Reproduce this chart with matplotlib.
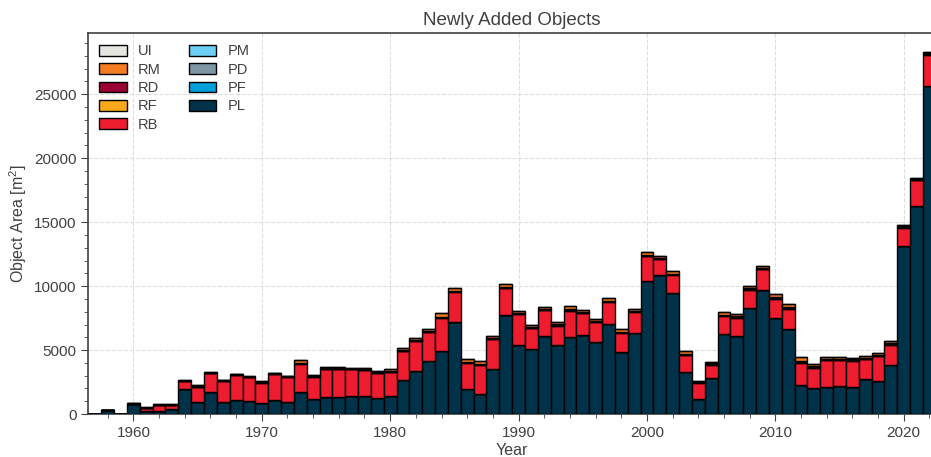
import numpy as np
import matplotlib.pyplot as plt
from matplotlib.ticker import MultipleLocator

plt.rcParams['font.family'] = ['Liberation Sans', 'DejaVu Sans']
plt.rcParams['mathtext.fontset'] = 'custom'
plt.rcParams['mathtext.rm'] = 'Liberation Sans'

years = list(range(1957, 2023))

# area per object class and year [m^2]
PL = [0, 300, 40, 780, 210, 260, 360, 1930, 940, 1740,
      940, 1090, 1040, 860, 1090, 960, 1700, 1170, 1300, 1350,
      1400, 1420, 1250, 1400, 2660, 3390, 4170, 4950, 7210, 1980,
      1560, 3540, 7730, 5390, 5050, 6090, 5360, 6020, 6200, 5650,
      7030, 4840, 6350, 10410, 10860, 9480, 3280, 1150, 2810, 6280,
      6090, 8310, 9690, 7470, 6640, 2290, 2010, 2110, 2190, 2140,
      2760, 2580, 3860, 13130, 16300, 25680]
PF = [0, 0, 0, 0, 0, 0, 0, 0, 0, 0,
      0, 0, 0, 0, 0, 0, 0, 0, 0, 0,
      0, 0, 0, 0, 0, 0, 0, 0, 0, 0,
      0, 0, 0, 0, 0, 0, 0, 0, 0, 0,
      0, 0, 0, 0, 0, 0, 0, 0, 0, 0,
      0, 0, 0, 0, 0, 0, 0, 0, 0, 0,
      0, 0, 0, 0, 0, 0]
PD = [0, 0, 0, 0, 0, 0, 0, 0, 0, 0,
      0, 0, 0, 0, 0, 0, 0, 0, 0, 0,
      0, 0, 0, 0, 0, 0, 0, 0, 0, 0,
      0, 0, 0, 0, 0, 0, 0, 0, 0, 0,
      0, 0, 0, 0, 0, 0, 0, 0, 0, 0,
      0, 0, 0, 0, 0, 0, 0, 0, 0, 0,
      0, 0, 0, 0, 0, 0]
PM = [0, 0, 0, 0, 0, 0, 0, 0, 0, 0,
      0, 0, 0, 0, 0, 0, 0, 0, 0, 0,
      0, 0, 0, 0, 0, 0, 0, 0, 0, 0,
      0, 0, 0, 0, 0, 0, 0, 0, 0, 0,
      0, 0, 0, 0, 0, 0, 0, 0, 0, 0,
      0, 0, 0, 0, 0, 0, 0, 0, 0, 0,
      0, 0, 0, 0, 0, 0]
RB = [0, 0, 0, 0, 250, 440, 330, 620, 1180, 1430,
      1640, 1950, 1830, 1600, 2020, 1920, 2230, 1750, 2230, 2170,
      2100, 2030, 1960, 1880, 2260, 2310, 2230, 2550, 2320, 2030,
      2270, 2290, 2110, 2400, 1640, 2010, 1540, 2050, 1660, 1510,
      1720, 1510, 1620, 1910, 1230, 1410, 1300, 1300, 1040, 1380,
      1440, 1400, 1610, 1510, 1590, 1720, 1610, 2110, 2030, 2030,
      1510, 1920, 1560, 1450, 1980, 2390]
RF = [0, 0, 0, 10, 10, 10, 10, 20, 20, 20,
      20, 20, 20, 10, 20, 20, 40, 20, 30, 20,
      20, 20, 20, 30, 40, 40, 40, 60, 50, 40,
      50, 50, 50, 50, 50, 40, 50, 60, 40, 50,
      50, 40, 50, 60, 50, 40, 50, 20, 30, 50,
      50, 50, 50, 70, 60, 80, 40, 40, 40, 40,
      40, 40, 30, 30, 30, 40]
RD = [0, 20, 0, 40, 20, 20, 20, 30, 30, 30,
      30, 40, 30, 50, 50, 50, 40, 40, 30, 40,
      40, 40, 50, 80, 40, 50, 50, 60, 50, 50,
      50, 60, 50, 50, 50, 50, 60, 60, 50, 60,
      60, 50, 50, 60, 60, 50, 60, 60, 90, 50,
      60, 60, 60, 70, 60, 60, 60, 60, 60, 60,
      80, 70, 110, 80, 80, 80]
RM = [0, 10, 0, 30, 30, 50, 40, 50, 70, 60,
      50, 50, 50, 30, 50, 40, 180, 40, 110, 70,
      60, 60, 50, 100, 130, 150, 150, 240, 210, 170,
      180, 200, 190, 180, 190, 170, 180, 220, 170, 180,
      200, 170, 180, 250, 170, 170, 210, 70, 120, 180,
      200, 210, 200, 260, 220, 280, 160, 160, 160, 130,
      140, 130, 120, 100, 100, 150]
UI = [0, 0, 0, 0, 0, 0, 0, 0, 0, 0,
      0, 0, 0, 0, 0, 0, 0, 0, 0, 0,
      0, 0, 0, 0, 0, 0, 0, 0, 0, 0,
      0, 0, 0, 0, 0, 0, 0, 0, 0, 0,
      0, 0, 0, 0, 0, 0, 0, 0, 0, 0,
      0, 0, 0, 0, 0, 0, 0, 0, 0, 0,
      0, 0, 0, 0, 0, 0]

# stacked from the bottom up
layers = [
    ('PL', PL, '#00324a'),
    ('PF', PF, '#00a0db'),
    ('PD', PD, '#7d97a5'),
    ('PM', PM, '#6dcff6'),
    ('RB', RB, '#ed1c2e'),
    ('RF', RF, '#fba91a'),
    ('RD', RD, '#9a0036'),
    ('RM', RM, '#f57c20'),
    ('UI', UI, '#e6e6e1'),
]

text_color = '#404040'

fig = plt.figure(figsize=(9.31, 4.57), dpi=100)
ax = fig.add_axes([0.095, 0.094, 0.9102, 0.833])

bottom = np.zeros(len(years))
handles = {}
for name, vals, color in layers:
    vals = np.array(vals, dtype=float)
    bars = ax.bar(years, vals, width=1.0, bottom=bottom, color=color,
                  edgecolor='black', linewidth=1.0, label=name, zorder=3)
    handles[name] = bars
    bottom += vals

order = ['UI', 'RM', 'RD', 'RF', 'RB', 'PM', 'PD', 'PF', 'PL']
ax.legend([handles[n] for n in order], order, loc='upper left', ncol=2,
          frameon=False, fontsize=10.5, labelcolor=text_color,
          handlelength=1.9, handleheight=0.75, handletextpad=0.75,
          columnspacing=1.9, borderaxespad=0.35, labelspacing=0.3)

ax.set_xlim(1956.5, 2022.5)
ax.set_ylim(0, 29760)
ax.xaxis.set_major_locator(MultipleLocator(10))
ax.xaxis.set_minor_locator(MultipleLocator(2))
ax.yaxis.set_major_locator(MultipleLocator(5000))
ax.yaxis.set_minor_locator(MultipleLocator(1000))

ax.grid(True, which='major', linestyle='--', color='#dddddd', linewidth=0.8, zorder=0)
ax.tick_params(which='both', direction='out', colors=text_color, labelsize=11)
ax.tick_params(which='major', length=5)
ax.tick_params(which='minor', length=3)
for side in ['top', 'left', 'bottom', 'right']:
    ax.spines[side].set_color('#404040')
    ax.spines[side].set_linewidth(1.2)

ax.set_xlabel('Year', fontsize=11.5, color=text_color, labelpad=2)
ax.set_ylabel(r'Object Area [m$^2$]', fontsize=11.5, color=text_color, labelpad=4)
ax.set_title('Newly Added Objects', fontsize=13.5, color=text_color, pad=6)

fig.savefig('out.png', dpi=100)
